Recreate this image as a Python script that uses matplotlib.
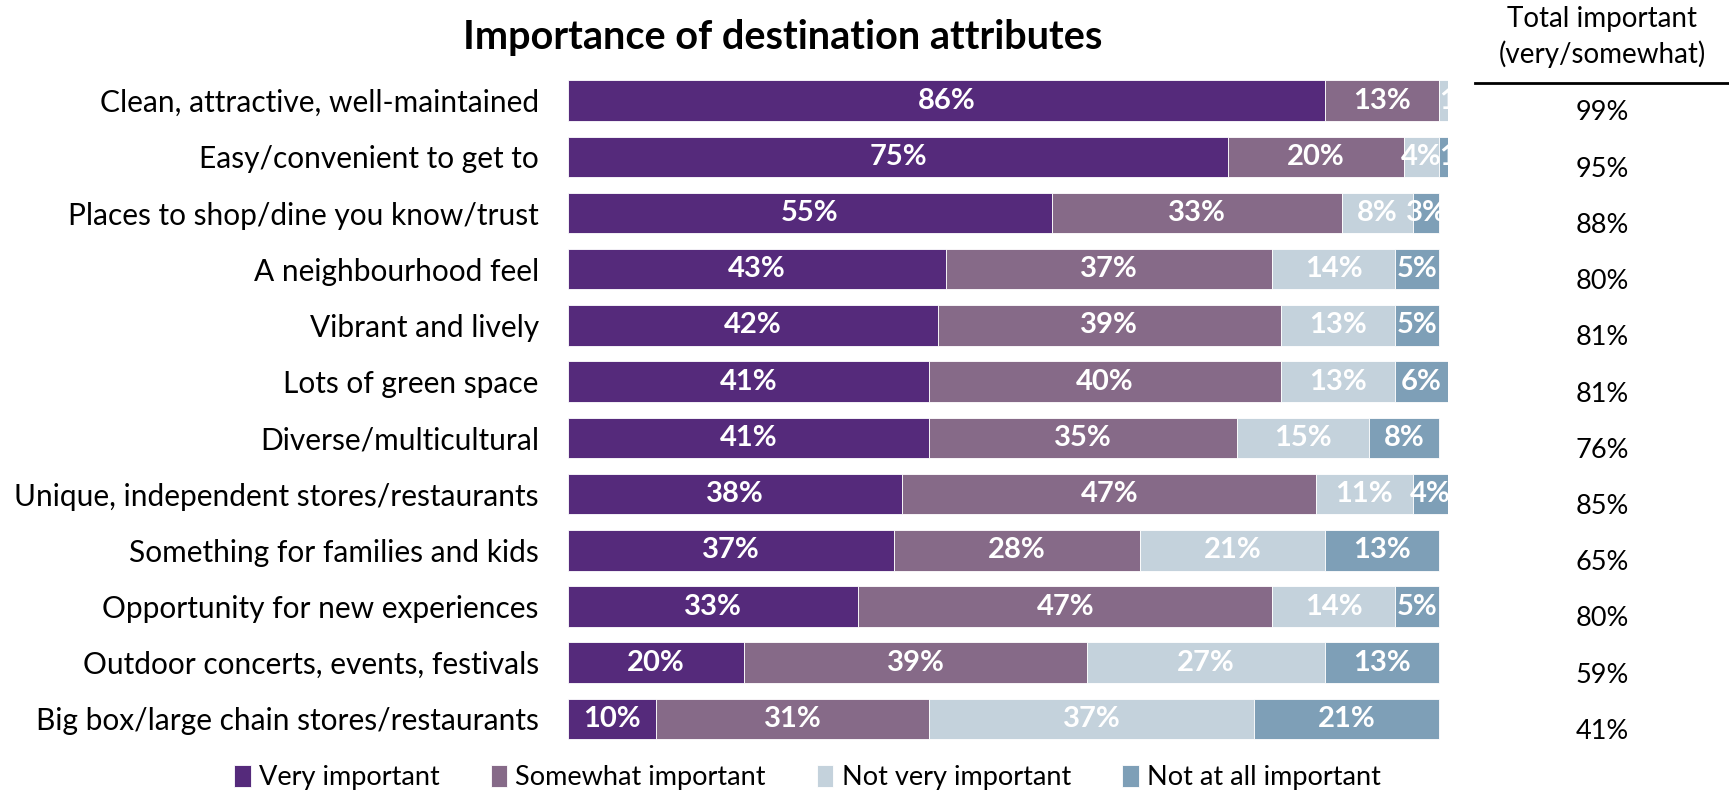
import matplotlib.pyplot as plt
from matplotlib.transforms import blended_transform_factory

attributes = [
    'Clean, attractive, well-maintained',
    'Easy/convenient to get to',
    'Places to shop/dine you know/trust',
    'A neighbourhood feel',
    'Vibrant and lively',
    'Lots of green space',
    'Diverse/multicultural',
    'Unique, independent stores/restaurants',
    'Something for families and kids',
    'Opportunity for new experiences',
    'Outdoor concerts, events, festivals',
    'Big box/large chain stores/restaurants',
]
very_important = [86, 75, 55, 43, 42, 41, 41, 38, 37, 33, 20, 10]
somewhat_important = [13, 20, 33, 37, 39, 40, 35, 47, 28, 47, 39, 31]
not_very_important = [1, 4, 8, 14, 13, 13, 15, 11, 21, 14, 27, 37]
not_at_all_important = [0, 1, 3, 5, 5, 6, 8, 4, 13, 5, 13, 21]
total_important = [99, 95, 88, 80, 81, 81, 76, 85, 65, 80, 59, 41]

series = [
    ('Very important', very_important, '#552a7b'),
    ('Somewhat important', somewhat_important, '#866a88'),
    ('Not very important', not_very_important, '#c4d2dc'),
    ('Not at all important', not_at_all_important, '#7e9fb7'),
]

plt.rcParams['font.family'] = ['Lato', 'DejaVu Sans']

fig = plt.figure(figsize=(17.29, 7.90), dpi=100)
ax = fig.add_axes([0.3285, 0.0544, 0.509, 0.8538])

ypos = list(range(len(attributes)))
left = [0] * len(attributes)
for name, vals, color in series:
    ax.barh(ypos, vals, left=left, height=0.72, color=color,
            edgecolor='white', linewidth=0.6, label=name)
    for y, v, l in zip(ypos, vals, left):
        if v <= 0:
            continue
        # tiny segments get their label starting at the segment edge;
        # everything is clipped at the 100% edge
        if v <= 1:
            ax.text(l, y, f'{v}%', ha='left', va='center', color='white',
                    fontsize=21, fontweight='bold', clip_on=True)
        else:
            ax.text(l + v / 2, y, f'{v}%', ha='center', va='center',
                    color='white', fontsize=21, fontweight='bold', clip_on=True)
    left = [a + b for a, b in zip(left, vals)]

ax.set_xlim(0, 100)
ax.set_ylim(len(attributes) - 0.5, -0.5)
ax.set_yticks(ypos)
ax.set_yticklabels(attributes, fontsize=21.5)
ax.tick_params(axis='y', length=0, pad=21)
ax.set_xticks([])
for s in ax.spines.values():
    s.set_visible(False)

fig.text(0.4525, 0.953, 'Importance of destination attributes', ha='center',
         va='center', fontsize=28.5, fontweight='bold')

# Total important column on the right
col_x = 0.9267
trans = blended_transform_factory(fig.transFigure, ax.transData)
for y, t in zip(ypos, total_important):
    ax.text(col_x, y + 0.22, f'{t}%', transform=trans, ha='center',
            va='center', fontsize=19.5, clip_on=False)
fig.text(col_x, 0.976, 'Total important', ha='center', va='center', fontsize=20)
fig.text(col_x, 0.932, '(very/somewhat)', ha='center', va='center', fontsize=20)
fig.add_artist(plt.Line2D([0.853, 1.0], [0.895, 0.895], color='black',
                          linewidth=2, transform=fig.transFigure))

fig.legend(loc='center', bbox_to_anchor=(0.467, 0.016), ncol=4, frameon=False,
           fontsize=19.5, handlelength=0.6, handleheight=0.9, handletextpad=0.3,
           columnspacing=1.9)

fig.savefig('out.png', dpi=100)
